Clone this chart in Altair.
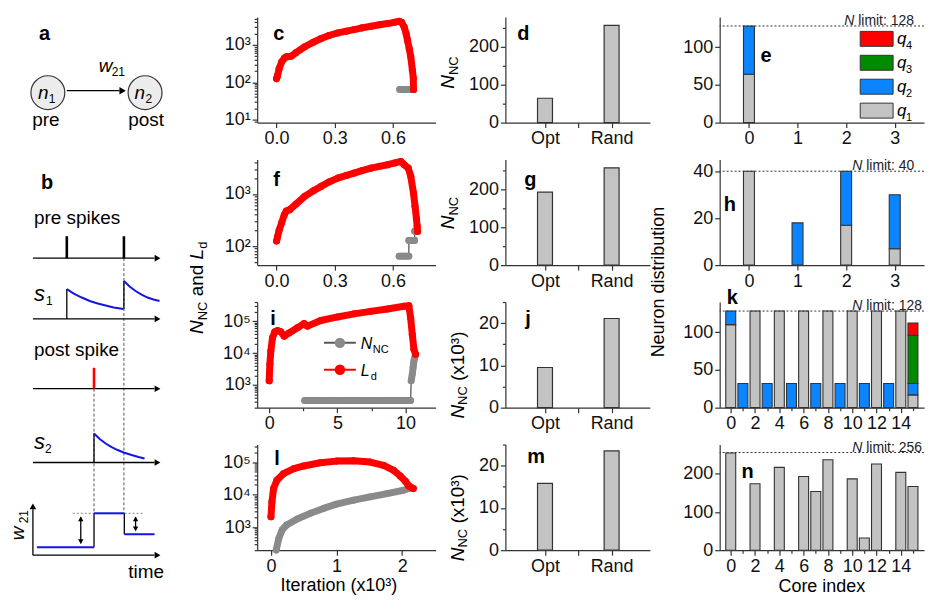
import json
import pandas as pd
import altair as alt

FONT = "Liberation Sans"
RED = "#ff0000"
GRAY = "#8a8a8a"
DGRAY = "#5a5a5a"
BARG = "#c3c3c3"
BLUE = "#0b84ff"
GREEN = "#008a00"
DARK = "#333333"
SBLUE = "#1414e6"

# ---------------- data: panels c, f, i, l (iteration in x10^3) ----------------
c_ld_x = [0.0, 0.005, 0.013, 0.026, 0.04, 0.05, 0.065, 0.077, 0.10, 0.145, 0.19, 0.23, 0.27, 0.316, 0.36,
          0.40, 0.44, 0.487, 0.53, 0.573, 0.61, 0.632, 0.645, 0.658, 0.668, 0.675, 0.684, 0.692, 0.70, 0.705, 0.706]
c_ld_y = [125, 150, 230, 350, 440, 480, 490, 500, 620, 890, 1180, 1480, 1780, 2090, 2330,
          2570, 2850, 3160, 3450, 3720, 4050, 4270, 4000, 3020, 2000, 1340, 800, 480, 213, 130, 64]
c_nc_x = [0.635, 0.645, 0.655, 0.665, 0.675, 0.685, 0.695, 0.706]
c_nc_y = [64, 64, 64, 64, 64, 64, 64, 64]
c_nc_seg = [0, 0, 0, 0, 0, 0, 0, 0]

f_ld_x = [0.0, 0.005, 0.013, 0.026, 0.04, 0.05, 0.068, 0.10, 0.145, 0.19, 0.23, 0.27, 0.316, 0.36, 0.40,
          0.44, 0.487, 0.53, 0.573, 0.61, 0.641, 0.658, 0.679, 0.692, 0.706, 0.714, 0.721, 0.725, 0.727]
f_ld_y = [125, 150, 200, 280, 400, 470, 500, 640, 900, 1150, 1400, 1700, 2020, 2270, 2520,
          2800, 3140, 3400, 3650, 3950, 4220, 3650, 3140, 2180, 1040, 580, 340, 240, 192]
f_nc_x = [0.632, 0.645, 0.658, 0.670, 0.682, 0.682, 0.692, 0.702, 0.712, 0.712, 0.720, 0.727]
f_nc_y = [64, 64, 64, 64, 64, 128, 128, 128, 128, 192, 192, 192]
f_nc_seg = [0, 0, 0, 0, 0, 1, 1, 1, 1, 2, 2, 2]

i_ld_x = [0.0, 0.05, 0.12, 0.24, 0.41, 0.61, 0.85, 1.1, 1.46, 2.07, 2.56, 2.8, 3.78, 5.0, 6.22,
          7.44, 8.66, 9.88, 10.24, 10.37, 10.49, 10.61, 10.73]
i_ld_y = [1360, 4500, 11700, 30000, 46500, 51000, 46500, 34000, 43000, 62000, 85000, 70000, 105000, 136000, 170000,
          204000, 241000, 293000, 307000, 127000, 38500, 13200, 9200]
i_nc_x = [2.6, 3.5, 4.5, 5.5, 6.5, 7.5, 8.5, 9.5, 10.37, 10.41, 10.49, 10.55, 10.61, 10.67, 10.73]
i_nc_y = [327, 327, 327, 327, 327, 327, 327, 327, 327, 1360, 2200, 3550, 5700, 7200, 9200]
i_nc_seg = [0, 0, 0, 0, 0, 0, 0, 0, 0, 1, 1, 1, 1, 1, 1]

l_ld_x = [0.0, 0.015, 0.04, 0.09, 0.19, 0.35, 0.5, 0.75, 1.0, 1.26, 1.51, 1.72, 1.87, 1.97, 2.05, 2.1, 2.17]
l_ld_y = [2100, 6060, 15400, 27600, 44000, 63000, 76000, 95000, 107000, 110000, 100000, 79000, 56000,
          37500, 25800, 18600, 15400]
l_nc_x = [0.08, 0.12, 0.17, 0.24, 0.40, 0.6, 0.8, 1.0, 1.26, 1.51, 1.77, 2.02, 2.13]
l_nc_y = [200, 460, 830, 1180, 1790, 2670, 3790, 5140, 6800, 8600, 10800, 13700, 16100]
l_nc_seg = [0, 0, 0, 0, 0, 0, 0, 0, 0, 0, 0, 0, 0]

# ---------------- data: panels d, g, j, m ----------------
bar_pos = [1, 2]
bar_cats = ["Opt", "Rand"]
d_vals = [64, 256]
g_vals = [192, 256]
j_vals = [9.5, 21.1]
m_vals = [15.8, 23.5]

# ---------------- data: panels e, h, k, n ----------------
Q_NAMES = ["q1", "q2", "q3", "q4"]
Q_COLORS = [BARG, BLUE, GREEN, RED]
e_cores = [0, 1, 2, 3]
e_q1 = [64, 0, 0, 0]
e_q2 = [64, 0, 0, 0]
e_q3 = [0, 0, 0, 0]
e_q4 = [0, 0, 0, 0]
h_q1 = [40, 0, 17, 7]
h_q2 = [0, 18, 23, 23]
h_q3 = [0, 0, 0, 0]
h_q4 = [0, 0, 0, 0]
k_cores = [0, 1, 2, 3, 4, 5, 6, 7, 8, 9, 10, 11, 12, 13, 14, 15]
k_q1 = [110, 0, 128, 0, 128, 0, 128, 0, 128, 0, 128, 0, 128, 0, 128, 17]
k_q2 = [18, 32, 0, 32, 0, 32, 0, 32, 0, 32, 0, 32, 0, 32, 0, 15]
k_q3 = [0, 0, 0, 0, 0, 0, 0, 0, 0, 0, 0, 0, 0, 0, 0, 64]
k_q4 = [0, 0, 0, 0, 0, 0, 0, 0, 0, 0, 0, 0, 0, 0, 0, 16]
n_q1 = [255, 0, 174, 0, 217, 0, 193, 154, 237, 0, 187, 32, 226, 0, 204, 167]
n_q2 = [0, 0, 0, 0, 0, 0, 0, 0, 0, 0, 0, 0, 0, 0, 0, 0]
limits = {"e": 128, "h": 40, "k": 128, "n": 256}

# character widths (em) for composing rotated titles
CW = {"N": .722, "C": .722, "a": .556, "n": .556, "d": .556, " ": .278, "L": .556,
      "(": .333, "x": .5, "1": .556, "0": .556, "³": .333, ")": .333}

W1, W2, W3, W4, H = 178, 179, 145, 205, 106
LFS = 18  # tick label font size


def axis(major, minor=(), orient="bottom", labels=None, fmt=None):
    major = list(major)
    vals = sorted(set(major) | set(minor))
    test = "indexof(%s, datum.value) >= 0" % json.dumps(major)
    if labels is not None:
        expr = " : ".join("datum.value == %s ? '%s'" % (json.dumps(v), t) for v, t in labels) + " : ''"
    else:
        expr = "%s ? datum.label : ''" % test
    kw = dict(values=vals, title=None, grid=False, orient=orient, labelExpr=expr,
              tickSize={"condition": {"test": test, "value": 5}, "value": 3},
              labelOverlap=False, labelFlush=False, labelFont=FONT, labelFontSize=LFS,
              labelColor="#111111", labelPadding=2, domainColor=DARK, tickColor=DARK,
              domainWidth=1.2, tickWidth=1.2)
    if fmt:
        kw["format"] = fmt
    return alt.Axis(**kw)


def txt(t, x, y, size=17, weight="normal", style="normal", align="left", baseline="alphabetic",
        angle=0, color="#000000"):
    return alt.Chart(alt.Data(values=[{"t": t}])).mark_text(
        align=align, baseline=baseline, font=FONT, fontSize=size, fontWeight=weight,
        fontStyle=style, angle=angle, color=color).encode(
        x=alt.value(x), y=alt.value(y), text="t:N")


def rot_pieces(pieces, xb, y0, size=19, subsize=13):
    out = []
    y = y0
    for text, kind in pieces:
        fs = subsize if kind == "sub" else size
        lead = len(text) - len(text.lstrip(" "))
        out.append(txt(text.strip(), xb + (4 if kind == "sub" else 0), y - lead * 0.278 * fs,
                       size=fs, style="italic" if kind == "it" else "normal", angle=270))
        y -= sum(CW[ch] for ch in text) * fs
    return out


def line_panel(ldx, ldy, ncx, ncy, ncseg, xdom, xmaj, xmin, xfmt, ydom, ylab, letter, lpos, extra=()):
    sx = alt.Scale(domain=xdom, nice=False, zero=False)
    lo, hi = ydom
    ymin = [m * 10 ** k for k in range(0, 7) for m in range(2, 10) if lo <= m * 10 ** k <= hi]
    sy = alt.Scale(type="log", domain=ydom, nice=False)
    X = alt.X("x:Q", scale=sx, axis=axis(xmaj, xmin, "bottom", fmt=xfmt))
    Y = alt.Y("y:Q", scale=sy, axis=axis([v for v, _ in ylab], ymin, "left", labels=ylab))
    ld = pd.DataFrame({"x": ldx, "y": ldy, "i": list(range(len(ldx)))})
    nc = pd.DataFrame({"x": ncx, "y": ncy, "seg": ncseg, "i": list(range(len(ncx)))})
    o = alt.Order("i:Q")
    layers = [
        alt.Chart(nc).mark_line(color=DGRAY, strokeWidth=1.3).encode(X, Y, order=o),
        alt.Chart(nc).mark_line(color=GRAY, strokeWidth=7, strokeCap="round", strokeJoin="round").encode(
            x="x:Q", y="y:Q", detail="seg:N", order=o),
        alt.Chart(nc).mark_circle(color=GRAY, size=45, opacity=1).encode(x="x:Q", y="y:Q"),
        alt.Chart(ld).mark_line(color=RED, strokeWidth=7, strokeCap="round", strokeJoin="round").encode(
            x="x:Q", y="y:Q", order=o),
        alt.Chart(ld).mark_circle(color=RED, size=50, opacity=1).encode(x="x:Q", y="y:Q"),
        txt(letter, lpos[0], lpos[1], size=20, weight="bold"),
    ] + list(extra)
    return alt.layer(*layers).properties(width=W2, height=H)


def bar_panel(vals, ydom, ymaj, ymin, letter, lpos, extra=()):
    df = pd.DataFrame({"pos": bar_pos, "cat": bar_cats, "v": vals})
    X = alt.X("pos:Q", scale=alt.Scale(domain=[0.48, 2.5], nice=False, zero=False),
              axis=axis([1, 1.5, 2], [], "bottom", labels=list(zip(bar_pos, bar_cats))))
    Y = alt.Y("v:Q", scale=alt.Scale(domain=ydom, nice=False), axis=axis(ymaj, ymin, "left"))
    bars = alt.Chart(df).mark_bar(size=15, color=BARG, stroke=DARK, strokeWidth=1.2).encode(X, Y)
    return alt.layer(bars, txt(letter, lpos[0], lpos[1], size=20, weight="bold"), *extra).properties(
        width=W3, height=H)


def stack_panel(cores, qs, xdom, xmaj, xmin, ydom, ymaj, ymin, limit, lim_x, barw, letter, lpos, extra=()):
    rows = []
    for qi, arr in enumerate(qs, 1):
        for core, v in zip(cores, arr):
            if v > 0:
                rows.append({"core": core, "q": Q_NAMES[qi - 1], "qi": qi, "v": v})
    df = pd.DataFrame(rows)
    bars = alt.Chart(df).mark_bar(size=barw, stroke=DARK, strokeWidth=1.1).encode(
        x=alt.X("core:Q", scale=alt.Scale(domain=xdom, nice=False, zero=False),
                axis=axis(xmaj, xmin, "bottom", fmt="d")),
        y=alt.Y("v:Q", stack="zero", scale=alt.Scale(domain=ydom, nice=False), axis=axis(ymaj, ymin, "left")),
        color=alt.Color("q:N", scale=alt.Scale(domain=Q_NAMES, range=Q_COLORS), legend=None),
        order=alt.Order("qi:Q", sort="ascending"))
    ldf = pd.DataFrame({"lim": [limit], "t": ["limit: %d" % limit], "n": ["N"]})
    lrule = alt.Chart(ldf).mark_rule(strokeDash=[2, 2], color=DARK, strokeWidth=1).encode(y="lim:Q")
    lt1 = alt.Chart(ldf).mark_text(align="right", baseline="alphabetic", dy=-1, font=FONT, fontSize=14,
                                   fontStyle="italic", color="#222222").encode(
        x=alt.value(lim_x), y="lim:Q", text="n:N")
    lt2 = alt.Chart(ldf).mark_text(align="left", baseline="alphabetic", dy=-1, font=FONT, fontSize=14,
                                   color="#222222").encode(
        x=alt.value(lim_x + 4), y="lim:Q", text="t:N")
    return alt.layer(bars, lrule, lt1, lt2, txt(letter, lpos[0], lpos[1], size=20, weight="bold"),
                     *extra).properties(width=W4, height=H)


# ---------------- build column 2 ----------------
LOGLAB3 = [(10, "10¹"), (100, "10²"), (1000, "10³")]
LOGLAB_F = [(100, "10²"), (1000, "10³")]
LOGLAB5 = [(1000, "10³"), (10000, "10⁴"), (100000, "10⁵")]

f_title = rot_pieces([("N", "it"), ("NC", "sub"), (" and ", "rm"), ("L", "it"), ("d", "sub")], -54, 175)
i_legend = [
    alt.Chart(alt.Data(values=[{}])).mark_rule(color=DGRAY, strokeWidth=2).encode(
        x=alt.value(67), x2=alt.value(99), y=alt.value(41)),
    alt.Chart(alt.Data(values=[{}])).mark_circle(color=GRAY, size=110, opacity=1).encode(
        x=alt.value(83), y=alt.value(41)),
    alt.Chart(alt.Data(values=[{}])).mark_rule(color=RED, strokeWidth=2).encode(
        x=alt.value(67), x2=alt.value(99), y=alt.value(68)),
    alt.Chart(alt.Data(values=[{}])).mark_circle(color=RED, size=110, opacity=1).encode(
        x=alt.value(83), y=alt.value(68)),
    txt("N", 104, 47, size=16, style="italic"),
    txt("NC", 116, 51, size=11),
    txt("L", 104, 74, size=16, style="italic"),
    txt("d", 114, 78, size=11),
]

pc = line_panel(c_ld_x, c_ld_y, c_nc_x, c_nc_y, c_nc_seg, [-0.1, 0.82], [0, 0.3, 0.6], [0.15, 0.45, 0.75], ".1f",
                [8.3, 5600], LOGLAB3, "c", (16, 23))
pf = line_panel(f_ld_x, f_ld_y, f_nc_x, f_nc_y, f_nc_seg, [-0.1, 0.82], [0, 0.3, 0.6], [0.15, 0.45, 0.75], ".1f",
                [43, 4600], LOGLAB_F, "f", (16, 27), f_title)
pi = line_panel(i_ld_x, i_ld_y, i_nc_x, i_nc_y, i_nc_seg, [-0.88, 12.2], [0, 5, 10], [2.5, 7.5], "d",
                [195, 400000], LOGLAB5, "i", (13, 23), i_legend)
pl = line_panel(l_ld_x, l_ld_y, l_nc_x, l_nc_y, l_nc_seg, [-0.21, 2.51], [0, 1, 2], [0.5, 1.5, 2.5], "d",
                [198, 345000], LOGLAB5, "l", (17, 21),
                [txt("Iteration (x10³)", 82, 147, size=18, align="center")])

# ---------------- build column 3 ----------------
pd_ = bar_panel(d_vals, [0, 278], [0, 100, 200], [50, 150, 250], "d", (12, 23),
                rot_pieces([("N", "it"), ("NC", "sub")], -52, 72))
pg = bar_panel(g_vals, [0, 278], [0, 100, 200], [50, 150, 250], "g", (19, 27),
               rot_pieces([("N", "it"), ("NC", "sub")], -52, 70))
pj = bar_panel(j_vals, [0, 25], [0, 10, 20], [5, 15, 25], "j", (20, 23),
               rot_pieces([("N", "it"), ("NC", "sub"), (" (x10³)", "rm")], -42, 117))
pm = bar_panel(m_vals, [0, 25], [0, 10, 20], [5, 15, 25], "m", (22, 19),
               rot_pieces([("N", "it"), ("NC", "sub"), (" (x10³)", "rm")], -42, 117))

# ---------------- build column 4 ----------------
leg_rows = ["4", "3", "2", "1"]
leg_cols = [RED, GREEN, BLUE, BARG]
leg_y = [22, 46, 70, 94]
e_legend = []
for dgt, col, cy in zip(leg_rows, leg_cols, leg_y):
    e_legend.append(alt.Chart(alt.Data(values=[{}])).mark_rect(color=col, stroke=DARK, strokeWidth=1).encode(
        x=alt.value(W4 - 64), x2=alt.value(W4 - 31), y=alt.value(cy - 7.5), y2=alt.value(cy + 7.5)))
    e_legend.append(txt("q", W4 - 27, cy + 5, size=17, style="italic"))
    e_legend.append(txt(dgt, W4 - 18, cy + 10, size=11))

small_major = [0, 1, 2, 3]
small_minor = [0.5, 1.5, 2.5]
big_major = [0, 2, 4, 6, 8, 10, 12, 14]
big_minor = [1, 3, 5, 7, 9, 11, 13, 15]

pe = stack_panel(e_cores, [e_q1, e_q2, e_q3, e_q4], [-0.5, 3.5], small_major, small_minor, [0, 140],
                 [0, 50, 100], [25, 75, 125], limits["e"], W4 - 70, 11, "e", (41, 45), e_legend)
ph = stack_panel(e_cores, [h_q1, h_q2, h_q3, h_q4], [-0.5, 3.5], small_major, small_minor, [0, 45],
                 [0, 20, 40], [10, 30], limits["h"], W4 - 62, 11, "h", (4, 52),
                 [txt("Neuron distribution", -61, 123, size=18, align="center", baseline="middle", angle=270)])
pk = stack_panel(k_cores, [k_q1, k_q2, k_q3, k_q4], [-0.5, 15.5], big_major, big_minor, [0, 140],
                 [0, 50, 100], [25, 75, 125], limits["k"], W4 - 62, 10, "k", (7, 2))
pn = stack_panel(k_cores, [n_q1, n_q2], [-0.5, 15.5], big_major, big_minor, [0, 277],
                 [0, 100, 200], [50, 150, 250], limits["n"], W4 - 62, 10, "n", (22, 34),
                 [txt("Core index", W4 / 2, 148, size=18, align="center")])

# ---------------- column 1: schematic (a, b), drawn in the first cell and overflowing downward ----------------
sx1 = alt.Scale(domain=[8, 8 + W1], nice=False, zero=False)
sy1 = alt.Scale(domain=[10, 10 + H], nice=False, zero=False, reverse=True)

sch_line_x = [31, 31, 31, 31, 31, 31, 65, 122.3, 92.3, 92.3, 122.7, 65, 79, 134]
sch_line_y = [252, 313, 383, 457, 550, 550, 313, 303, 457, 542, 508, 84, 512, 512]
sch_line_x2 = [153, 153, 153, 153, 153, 31, 65, 122.3, 92.3, 92.3, 122.7, 118, 79, 134]
sch_line_y2 = [252, 313, 383, 457, 550, 504, 283, 275, 428, 508, 529, 84, 538, 525]
pre_spike_x = [65, 122.3]
pre_spike_y = [230, 230]
pre_spike_y2 = [252, 252]
post_spike_x = [92.3]
post_spike_y = [362]
post_spike_y2 = [383]
dash_x = [122.3, 92.3]
dash_y = [252, 383]
dash_y2 = [508, 508]
w_step_x = [35, 92.3, 122.7]
w_step_x2 = [92.3, 122.7, 153]
w_step_y = [542, 508, 529]
s1a_x = [65, 72, 80, 88, 96, 104, 112, 122]
s1a_y = [283, 287.5, 291.5, 295, 297.5, 299.5, 301.5, 303]
s1b_x = [122.3, 128, 134, 140, 146, 152, 158]
s1b_y = [275, 280.5, 285, 288.5, 291.5, 293.5, 295]
s2_x = [92.3, 98, 104, 110, 116, 122, 130, 137, 143]
s2_y = [428, 433.5, 438, 441.5, 444.5, 447, 449.5, 451.5, 453]
head_x = [156, 156, 156, 156, 156, 121, 31, 79, 79, 134, 134]
head_y = [252, 313, 383, 457, 550, 84, 501, 513.5, 536.5, 513.5, 523.5]
head_s = ["triangle-right"] * 6 + ["triangle-up", "triangle-up", "triangle-down", "triangle-up", "triangle-down"]
head_size = [45, 45, 45, 45, 45, 55, 45, 30, 30, 30, 30]
node_x = [46, 143.5]
node_y = [86, 86]


def rules(xs, ys, x2s, y2s, color, width, dash=None):
    df = pd.DataFrame({"x": xs, "y": ys, "x2": x2s, "y2": y2s})
    kw = dict(color=color, strokeWidth=width)
    if dash:
        kw["strokeDash"] = dash
    return alt.Chart(df).mark_rule(**kw).encode(x="x:Q", y="y:Q", x2="x2:Q", y2="y2:Q")


def stext(xs, ys, ts, size=19, weight="normal", style="normal", align="left", angle=0):
    df = pd.DataFrame({"x": xs, "y": ys, "t": ts})
    return alt.Chart(df).mark_text(align=align, baseline="alphabetic", font=FONT, fontSize=size,
                                   fontWeight=weight, fontStyle=style, angle=angle, color="black").encode(
        x="x:Q", y="y:Q", text="t:N")


curves = pd.DataFrame({
    "x": s1a_x + s1b_x + s2_x,
    "y": s1a_y + s1b_y + s2_y,
    "c": ["s1a"] * len(s1a_x) + ["s1b"] * len(s1b_x) + ["s2"] * len(s2_x),
    "i": list(range(len(s1a_x) + len(s1b_x) + len(s2_x))),
})

col1 = alt.layer(
    alt.Chart(pd.DataFrame({"x": [8], "y": [10]})).mark_point(opacity=0, size=1).encode(
        x=alt.X("x:Q", scale=sx1, axis=None), y=alt.Y("y:Q", scale=sy1, axis=None)),
    rules(dash_x, dash_y, dash_x, dash_y2, "#555555", 1, [3, 2]),
    rules([71], [508], [143], [508], "#888888", 1, [2, 2]),
    rules(sch_line_x, sch_line_y, sch_line_x2, sch_line_y2, "#000000", 1.3),
    rules(pre_spike_x, pre_spike_y, pre_spike_x, pre_spike_y2, "#000000", 2.6),
    rules(post_spike_x, post_spike_y, post_spike_x, post_spike_y2, "#ff0000", 2.6),
    rules(w_step_x, w_step_y, w_step_x2, w_step_y, SBLUE, 2),
    alt.Chart(curves).mark_line(color=SBLUE, strokeWidth=2).encode(x="x:Q", y="y:Q", detail="c:N",
                                                                    order="i:Q"),
    alt.Chart(pd.DataFrame({"x": head_x, "y": head_y, "s": head_s, "z": head_size})).mark_point(
        filled=True, color="#000000", opacity=1).encode(
        x="x:Q", y="y:Q", shape=alt.Shape("s:N", scale=None), size=alt.Size("z:Q", scale=None)),
    alt.Chart(pd.DataFrame({"x": node_x, "y": node_y})).mark_circle(
        fill="#ececec", stroke="#333333", strokeWidth=1.2, size=1156, opacity=1).encode(x="x:Q", y="y:Q"),
    stext([37, 39], [33, 183], ["a", "b"], size=20, weight="bold"),
    stext([32, 32], [218, 350], ["pre spikes", "post spike"]),
    stext([44, 144.5, 144.5], [119, 119, 573], ["pre", "post", "time"], align="center"),
    stext([36, 133, 97], [92, 92, 65], ["n", "n", "w"], style="italic"),
    stext([32, 32], [295, 443], ["s", "s"], size=22, style="italic"),
    stext([47, 144, 110, 44, 43], [96, 96, 69, 299, 447], ["1", "2", "21", "1", "2"], size=12),
    stext([22], [535], ["w"], style="italic", angle=270),
    stext([26], [518], ["21"], size=12, angle=270),
).properties(width=W1, height=H)


def blank():
    return alt.Chart(alt.Data(values=[{}])).mark_point(opacity=0, size=1).encode(
        x=alt.value(0), y=alt.value(0)).properties(width=W1, height=H)


chart = alt.concat(
    col1, pc, pd_, pe,
    blank(), pf, pg, ph,
    blank(), pi, pj, pk,
    blank(), pl, pm, pn,
    columns=4, spacing={"row": 37, "column": 70}, bounds="flush",
).properties(padding=0).configure(font=FONT).configure_view(stroke="transparent")

chart.save("out.html", embed_options={"renderer": "svg", "actions": False})
